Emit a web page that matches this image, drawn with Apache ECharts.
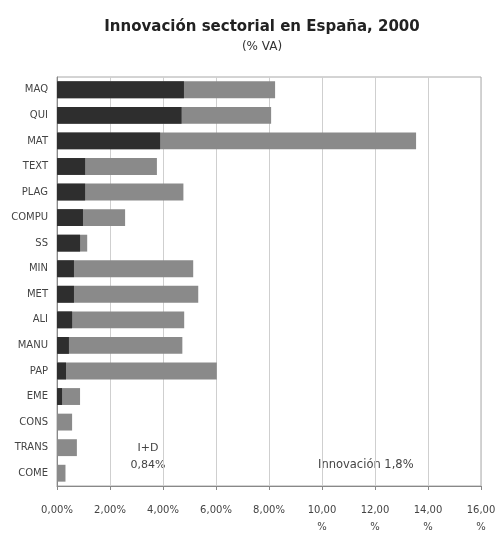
<!DOCTYPE html>
<html>
<head>
<meta charset="utf-8">
<script src="https://cdn.jsdelivr.net/npm/echarts@6/dist/echarts.min.js"></script>
<style>
  html, body { margin: 0; padding: 0; background: #fff; }
  #chart { width: 500px; height: 536px; }
</style>
</head>
<body>
<div id="chart"></div>
<script>
// Sectors, top to bottom
const sectors = ['MAQ', 'QUI', 'MAT', 'TEXT', 'PLAG', 'COMPU', 'SS', 'MIN', 'MET', 'ALI', 'MANU', 'PAP', 'EME', 'CONS', 'TRANS', 'COME'];
// R&D spending, % of value added
const idValues = [4.79, 4.70, 3.89, 1.06, 1.06, 0.98, 0.87, 0.64, 0.64, 0.57, 0.45, 0.34, 0.19, 0.00, 0.00, 0.00];
// Total innovation spending, % of value added
const innovValues = [8.23, 8.08, 13.55, 3.77, 4.77, 2.57, 1.14, 5.14, 5.33, 4.80, 4.73, 6.03, 0.87, 0.57, 0.75, 0.32];
// X-axis tick labels (0 to 16 %, step 2)
const xTickLabels = ['0,00%', '2,00%', '4,00%', '6,00%', '8,00%', '10,00\n%', '12,00\n%', '14,00\n%', '16,00\n%'];

const chart = echarts.init(document.getElementById('chart'), null, { renderer: 'canvas' });

const font = 'DejaVu Sans, Verdana, sans-serif';

chart.setOption({
  animation: false,
  backgroundColor: '#ffffff',
  title: [
    {
      text: 'Innovación sectorial en España, 2000',
      left: 257, top: 15, textAlign: 'center',
      textStyle: { fontFamily: font, fontWeight: 'bold', fontSize: 15, color: '#222' }
    },
    {
      text: '(% VA)',
      left: 257, top: 36, textAlign: 'center',
      textStyle: { fontFamily: font, fontWeight: 'normal', fontSize: 12, color: '#333' }
    }
  ],
  grid: {
    left: 57, right: 19, top: 77, bottom: 45,
    show: true, borderColor: '#a8a8a8', borderWidth: 1
  },
  xAxis: {
    type: 'value',
    min: 0, max: 16, interval: 2,
    axisLine: { show: true, lineStyle: { color: '#888' } },
    axisTick: { show: true, length: 4, lineStyle: { color: '#888' } },
    splitLine: { show: true, lineStyle: { color: '#cfcfcf', width: 1 } },
    axisLabel: {
      fontFamily: font, fontSize: 10, color: '#444', margin: 16, lineHeight: 17,
      formatter: v => xTickLabels[Math.round(v / 2)]
    }
  },
  yAxis: {
    type: 'category',
    data: sectors,
    inverse: true,
    axisLine: { show: true, lineStyle: { color: '#888' } },
    axisTick: { show: false },
    axisLabel: { fontFamily: font, fontSize: 10, color: '#444', margin: 9 }
  },
  series: [
    {
      name: 'Innovación',
      type: 'bar',
      data: innovValues,
      barCategoryGap: '34%',
      barGap: '-100%',
      itemStyle: { color: '#8a8a8a' },
      z: 2
    },
    {
      name: 'I+D',
      type: 'bar',
      data: idValues,
      barCategoryGap: '34%',
      barGap: '-100%',
      itemStyle: { color: '#2e2e2e' },
      z: 3
    }
  ],
  graphic: [
    {
      type: 'text', x: 148, y: 457,
      style: { text: 'I+D\n0,84%', fontFamily: font, fontSize: 11, fill: '#444', align: 'center', verticalAlign: 'middle', lineHeight: 17 }
    },
    {
      type: 'text', x: 318, y: 465,
      style: { text: 'Innovación 1,8%', fontFamily: font, fontSize: 11.5, fill: '#444', verticalAlign: 'middle' }
    }
  ]
});
</script>
</body>
</html>
